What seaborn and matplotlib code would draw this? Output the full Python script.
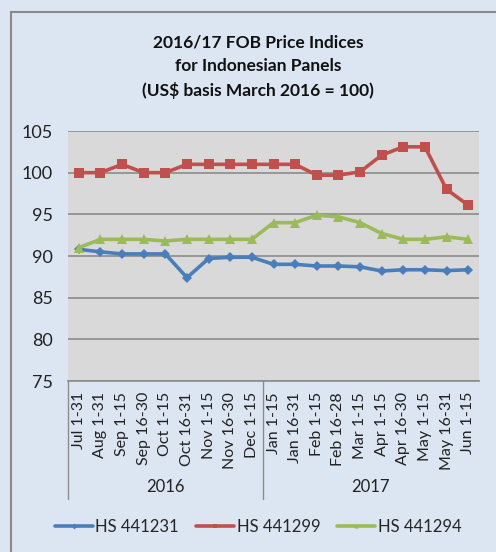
import matplotlib
matplotlib.use("Agg")
import matplotlib.pyplot as plt
import matplotlib.transforms as mtransforms
from matplotlib.patches import Rectangle
import seaborn as sns
import pandas as pd

periods = ["Jul 1-31", "Aug 1-31", "Sep 1-15", "Sep 16-30", "Oct 1-15", "Oct 16-31",
           "Nov 1-15", "Nov 16-30", "Dec 1-15", "Jan 1-15", "Jan 16-31", "Feb 1-15",
           "Feb 16-28", "Mar 1-15", "Apr 1-15", "Apr 16-30", "May 1-15", "May 16-31", "Jun 1-15"]
years = ["2016", "2017"]
year_sizes = [9, 10]
hs_441231 = [90.8, 90.5, 90.25, 90.25, 90.25, 87.4, 89.7, 89.85, 89.85, 89.0,
             89.0, 88.8, 88.8, 88.7, 88.2, 88.35, 88.35, 88.25, 88.35]
hs_441299 = [100.0, 100.0, 101.0, 100.0, 100.0, 101.0, 101.0, 101.0, 101.0, 101.0,
             101.0, 99.7, 99.7, 100.1, 102.1, 103.1, 103.1, 98.0, 96.1]
hs_441294 = [91.0, 92.0, 92.0, 92.0, 91.8, 92.0, 92.0, 92.0, 92.0, 94.0,
             94.0, 94.9, 94.7, 94.0, 92.7, 92.0, 92.0, 92.3, 92.0]
series_names = ["HS 441231", "HS 441299", "HS 441294"]

rows = []
for name, vals in zip(series_names, [hs_441231, hs_441299, hs_441294]):
    for p, v in zip(periods, vals):
        rows.append({"period": p, "value": v, "series": name})
df = pd.DataFrame(rows)

sns.set_theme(style="white")
FONT = ["Lato", "DejaVu Sans"]
plt.rcParams["font.family"] = FONT

bg = "#dce6f2"
fig = plt.figure(figsize=(4.96, 5.52), dpi=100, facecolor=bg)
ax = fig.add_axes([68/496, 1-381/552, 411/496, 250/552])
ax.set_facecolor("#d9d9d9")

palette = {"HS 441231": "#4a7ebb", "HS 441299": "#c0504d", "HS 441294": "#9bbb59"}
markers = {"HS 441231": "D", "HS 441299": "s", "HS 441294": "^"}
sns.lineplot(data=df, x="period", y="value", hue="series", style="series",
             palette=palette, markers=markers, dashes=False, sort=False,
             linewidth=2.6, markersize=6, markeredgewidth=0, ax=ax, legend=True)
msize = {"HS 441231": 5, "HS 441299": 7.5, "HS 441294": 7}
for line, name in zip(ax.lines, series_names):
    line.set_markersize(msize[name])

ax.set_ylim(75, 105)
ax.set_yticks([75, 80, 85, 90, 95, 100, 105])
ax.set_xlim(-0.5, len(periods) - 0.5)
ax.set_xlabel("")
ax.set_ylabel("")
ax.grid(axis="y", color="#8c8c8c", linewidth=1.2)
ax.set_axisbelow(True)
for s in ["left", "right", "top"]:
    ax.spines[s].set_visible(False)
ax.spines["bottom"].set_color("#8c8c8c")
ax.spines["bottom"].set_linewidth(1.2)
ax.tick_params(axis="y", length=0, pad=11, labelsize=13, labelcolor="#222222")
ax.tick_params(axis="x", length=0, pad=8, labelsize=11.5, labelcolor="#222222",
               labelrotation=90)

# group separators and year labels
trans = mtransforms.blended_transform_factory(ax.transData, ax.transAxes)
edges = [-0.5]
for n in year_sizes:
    edges.append(edges[-1] + n)
for e in edges[:-1]:
    ax.plot([e, e], [0, -118/250], transform=trans, color="#8c8c8c",
            linewidth=1.0, clip_on=False)
for i, y in enumerate(years):
    ax.text((edges[i] + edges[i+1]) / 2, -106/250, y, transform=trans,
            ha="center", va="center", fontsize=12, color="#222222")

# legend
handles, labels = ax.get_legend_handles_labels()
ax.get_legend().remove()
for h in handles:
    h.set_markersize(3)
fig.legend(handles, labels, loc="center", bbox_to_anchor=(0.52, 1-527/552),
           ncol=3, frameon=False, fontsize=12, handlelength=2.3,
           handletextpad=0.15, columnspacing=1.0)

# title
fig.text(0.52, 1-35/552, "2016/17 FOB Price Indices\nfor Indonesian Panels\n(US\\$ basis March 2016 = 100)",
         ha="center", va="top", fontsize=12.5, fontweight="bold",
         linespacing=1.55, color="#111111")

# chart border
fig.patches.append(Rectangle((11/496, -0.1), 1.2, 1-12/552+0.1, transform=fig.transFigure,
                             fill=False, edgecolor="#8a8a8a", linewidth=1.5))

fig.savefig("out.png", dpi=100, facecolor=bg)
